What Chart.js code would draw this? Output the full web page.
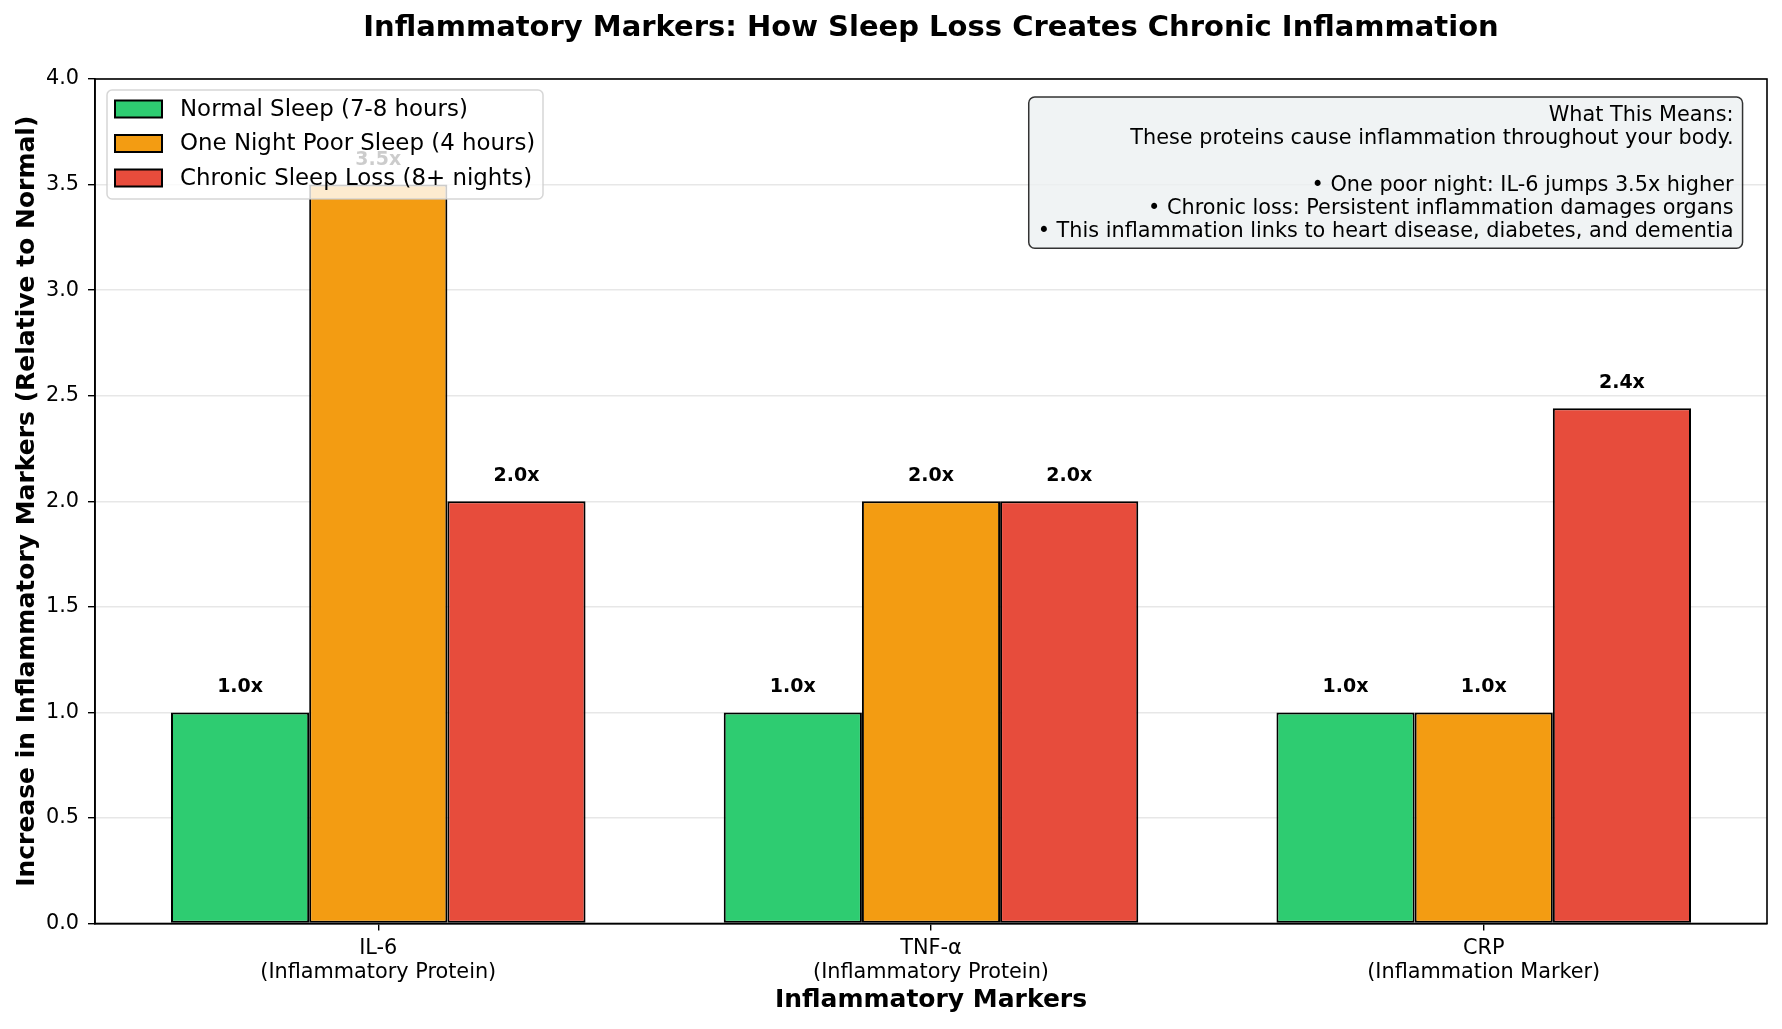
<!DOCTYPE html>
<html>
<head>
<meta charset="utf-8">
<script src="https://cdn.jsdelivr.net/npm/chart.js@4.4.1/dist/chart.umd.min.js"></script>
<style>
  html, body { margin: 0; padding: 0; background: #ffffff; }
  #wrap { width: 1782px; height: 1029px; }
</style>
</head>
<body>
<div id="wrap"><canvas id="c" width="1782" height="1029"></canvas></div>
<script>
// ---- data ----
const categories = ["IL-6", "TNF-α", "CRP"];
const categorySubtitles = ["(Inflammatory Protein)", "(Inflammatory Protein)", "(Inflammation Marker)"];
const seriesNames = ["Normal Sleep (7-8 hours)", "One Night Poor Sleep (4 hours)", "Chronic Sleep Loss (8+ nights)"];
const normalSleep = [1.0, 1.0, 1.0];
const onePoorNight = [3.5, 2.0, 1.0];
const chronicLoss = [2.0, 2.0, 2.44];
const seriesColors = ["#2ecc71", "#f39c12", "#e74c3c"];
const yTicks = [0, 0.5, 1.0, 1.5, 2.0, 2.5, 3.0, 3.5, 4.0];
const titleText = "Inflammatory Markers: How Sleep Loss Creates Chronic Inflammation";
const xTitle = "Inflammatory Markers";
const yTitle = "Increase in Inflammatory Markers (Relative to Normal)";
const noteLines = [
  "What This Means:",
  "These proteins cause inflammation throughout your body.",
  "",
  "• One poor night: IL-6 jumps 3.5x higher",
  "• Chronic loss: Persistent inflammation damages organs",
  "• This inflammation links to heart disease, diabetes, and dementia"
];

const FONT = "'DejaVu Sans', sans-serif";
const seriesValues = [normalSleep, onePoorNight, chronicLoss];

const datasets = seriesValues.map((vals, si) => ({
  label: seriesNames[si],
  data: vals.map((v, i) => ({ x: i, y: v })),
  backgroundColor: seriesColors[si],
  borderColor: "#000000",
  borderWidth: 2,
  borderSkipped: false,
  categoryPercentage: 0.75,
  barPercentage: 1.0
}));

const overlayPlugin = {
  id: "overlay",
  afterDatasetsDraw(chart) {
    const ctx = chart.ctx;
    ctx.save();
    ctx.font = "bold 19px " + FONT;
    ctx.fillStyle = "#000";
    ctx.textAlign = "center";
    ctx.textBaseline = "alphabetic";
    chart.data.datasets.forEach((ds, di) => {
      const meta = chart.getDatasetMeta(di);
      meta.data.forEach((bar, i) => {
        const v = seriesValues[di][i];
        ctx.fillText(v.toFixed(1) + "x", bar.x, bar.y - 20);
      });
    });
    ctx.restore();
  },
  afterDraw(chart) {
    const ctx = chart.ctx;
    const a = chart.chartArea;
    ctx.save();
    // frame (top/right spines)
    ctx.strokeStyle = "#000";
    ctx.lineWidth = 1.6;
    ctx.strokeRect(a.left, a.top, a.right - a.left, a.bottom - a.top);

    // legend
    const lx = 107, ly = 90, lw = 436, lh = 109;
    ctx.beginPath();
    ctx.roundRect(lx, ly, lw, lh, 5);
    ctx.fillStyle = "rgba(255,255,255,0.8)";
    ctx.fill();
    ctx.strokeStyle = "rgba(204,204,204,0.8)";
    ctx.lineWidth = 1.5;
    ctx.stroke();
    const rows = [109, 143.5, 178];
    ctx.font = "22.9px " + FONT;
    ctx.textAlign = "left";
    ctx.textBaseline = "middle";
    seriesNames.forEach((name, i) => {
      ctx.fillStyle = seriesColors[i];
      ctx.fillRect(115, rows[i] - 8.5, 47, 17);
      ctx.strokeStyle = "#000";
      ctx.lineWidth = 2;
      ctx.strokeRect(115, rows[i] - 8.5, 47, 17);
      ctx.fillStyle = "#000";
      ctx.fillText(name, 180, rows[i] + 1);
    });

    // annotation box (anchored at axes fraction 0.98, right/top aligned)
    ctx.font = "20.8px " + FONT;
    let maxW = 0;
    noteLines.forEach(t => { maxW = Math.max(maxW, ctx.measureText(t).width); });
    const lineH = 23.2;
    const pad = 9;
    const textRight = a.left + 0.98 * (a.right - a.left);
    const textTop = 105;
    const bx = textRight - maxW - pad, by = textTop - pad + 1;
    const bw = maxW + 2 * pad, bh = lineH * noteLines.length + 2 * pad - 6;
    ctx.beginPath();
    ctx.roundRect(bx, by, bw, bh, 6);
    ctx.fillStyle = "rgba(236,240,241,0.8)";
    ctx.fill();
    ctx.strokeStyle = "rgba(0,0,0,0.8)";
    ctx.lineWidth = 1.5;
    ctx.stroke();
    ctx.fillStyle = "#000";
    ctx.textAlign = "right";
    ctx.textBaseline = "middle";
    noteLines.forEach((t, i) => {
      ctx.fillText(t, textRight, textTop + lineH / 2 - 1 + i * lineH);
    });
    ctx.restore();
  }
};

new Chart(document.getElementById("c"), {
  type: "bar",
  data: { datasets },
  options: {
    responsive: false,
    animation: false,
    devicePixelRatio: 1,
    layout: { padding: { top: 0, left: 0, right: 15, bottom: 0 } },
    plugins: {
      legend: { display: false },
      tooltip: { enabled: false },
      title: {
        display: true,
        text: titleText,
        fullSize: false,
        color: "#000",
        font: { family: FONT, size: 29, weight: "bold", lineHeight: 1.2 },
        padding: { top: 11, bottom: 33.2 }
      }
    },
    scales: {
      x: {
        type: "linear",
        offset: false,
        min: -0.5125,
        max: 2.5125,
        afterBuildTicks(scale) {
          scale.ticks = categories.map((c, i) => ({ value: i }));
        },
        afterFit(scale) { scale.height = 105.5; },
        ticks: {
          color: "#000",
          font: { family: FONT, size: 20.8, lineHeight: 1.15 },
          padding: 6,
          maxRotation: 0,
          autoSkip: false,
          callback(value) {
            const i = Math.round(value);
            return [categories[i], categorySubtitles[i]];
          }
        },
        grid: {
          display: true,
          offset: false,
          drawOnChartArea: false,
          drawTicks: true,
          tickLength: 7,
          color: "#000",
          lineWidth: 1.4
        },
        border: { display: true, color: "#000", width: 1.6 },
        title: {
          display: true,
          text: xTitle,
          color: "#000",
          font: { family: FONT, size: 25, weight: "bold", lineHeight: 1.2 },
          padding: { top: 0, bottom: 14 }
        }
      },
      y: {
        min: 0,
        max: 4,
        afterBuildTicks(scale) {
          scale.ticks = yTicks.map(v => ({ value: v }));
        },
        afterFit(scale) { scale.width = 95; },
        ticks: {
          color: "#000",
          font: { family: FONT, size: 20.8 },
          padding: 9,
          callback(value) { return Number(value).toFixed(1); }
        },
        grid: {
          display: true,
          drawOnChartArea: true,
          drawTicks: true,
          tickLength: 7,
          color: "rgba(176,176,176,0.3)",
          lineWidth: 1.4,
          tickColor: "#000",
          tickBorderDash: [],
          borderDash: [7, 3]
        },
        border: { display: true, color: "#000", width: 1.6, dash: [] },
        title: {
          display: true,
          text: yTitle,
          color: "#000",
          font: { family: FONT, size: 25, weight: "bold", lineHeight: 1.2 },
          padding: { top: 12, bottom: 0 }
        }
      }
    }
  },
  plugins: [overlayPlugin]
});
</script>
</body>
</html>
